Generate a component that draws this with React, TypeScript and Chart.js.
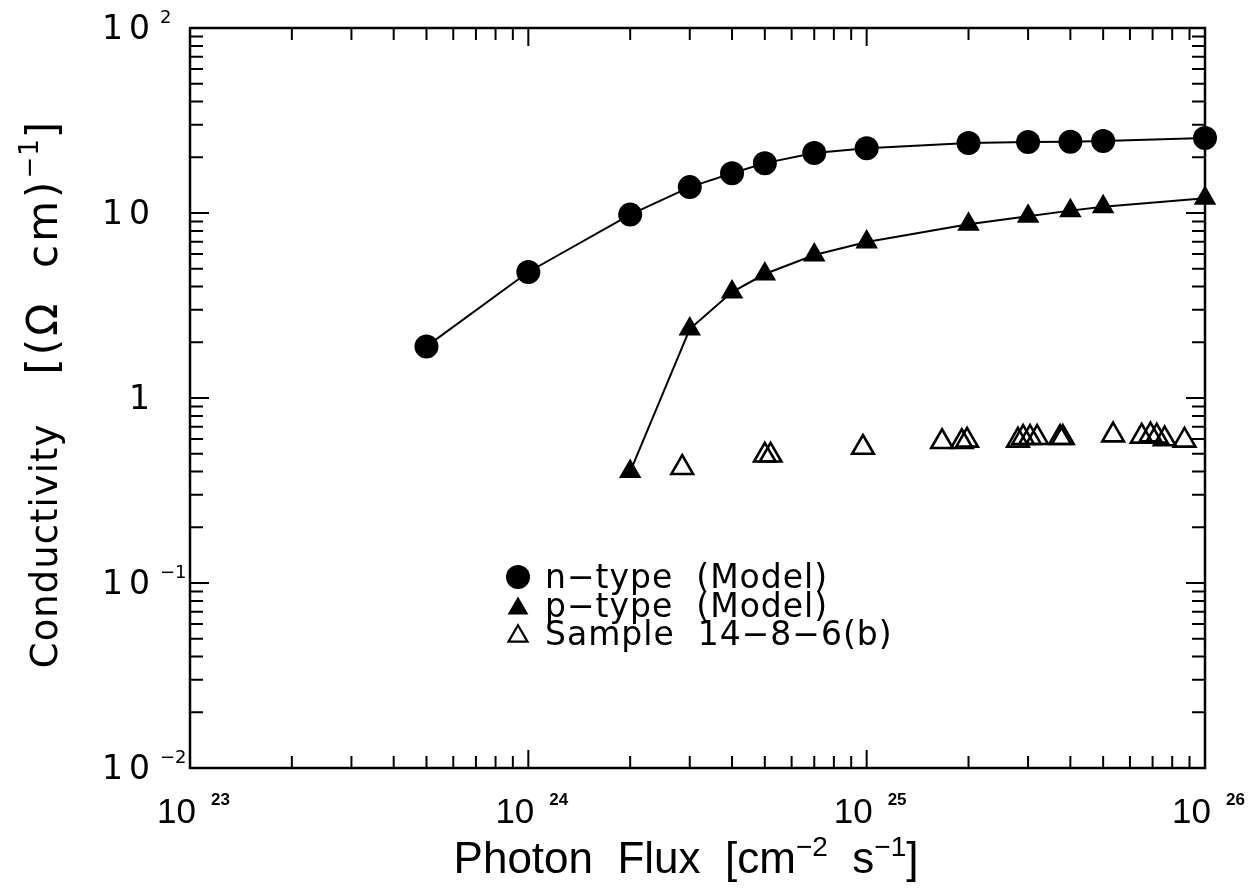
import React, { useEffect, useRef } from "react";
import { Chart, registerables } from "chart.js";

Chart.register(...registerables);

// ---- data ----
const nTypeX = [5e23, 1e24, 2e24, 3e24, 4e24, 5e24, 7e24, 1e25, 2e25, 3e25, 4e25, 5e25, 1e26];
const nTypeY = [1.9, 4.8, 9.8, 13.8, 16.4, 18.6, 21.1, 22.4, 23.9, 24.2, 24.3, 24.5, 25.4];

const pTypeX = [2e24, 3e24, 4e24, 5e24, 7e24, 1e25, 2e25, 3e25, 4e25, 5e25, 1e26];
const pTypeY = [0.4, 2.36, 3.74, 4.68, 5.93, 6.97, 8.7, 9.6, 10.3, 10.8, 12.0];

const sampleX = [2.85e24, 5.0e24, 5.2e24, 9.75e24, 1.67e25, 1.91e25, 1.98e25, 2.8e25, 2.9e25, 3.04e25, 3.19e25, 3.73e25, 3.8e25, 5.35e25, 6.5e25, 6.9e25, 7.2e25, 7.6e25, 8.7e25];
const sampleY = [0.42, 0.49, 0.49, 0.54, 0.58, 0.58, 0.59, 0.59, 0.61, 0.61, 0.61, 0.61, 0.61, 0.63, 0.62, 0.63, 0.62, 0.6, 0.59];

const xTickValues = [1e23, 1e24, 1e25, 1e26];
const xTickBase = ["10", "10", "10", "10"];
const xTickExp = ["23", "24", "25", "26"];

const yTickValues = [0.01, 0.1, 1, 10, 100];
const yTickBase = ["10", "10", "1", "10", "10"];
const yTickExp = ["\u2212" + "2", "\u2212" + "1", "", "", "2"];

const legendLabels = ["n\u2212type  (Model)", "p\u2212type  (Model)", "Sample  14\u22128\u22126(b)"];

const X_MIN = 1e23, X_MAX = 1e26, Y_MIN = 0.01, Y_MAX = 100;

const SANS = '"DejaVu Sans", sans-serif';
const LIB = '"Liberation Sans", Arial, sans-serif';

function minorValues(min: number, max: number): { v: number; major: boolean }[] {
  const out: { v: number; major: boolean }[] = [];
  const e0 = Math.round(Math.log10(min));
  const e1 = Math.round(Math.log10(max));
  for (let e = e0; e <= e1; e++) {
    for (let m = 1; m <= 9; m++) {
      const v = m * Math.pow(10, e);
      if (v < min * 0.999 || v > max * 1.001) continue;
      out.push({ v, major: m === 1 });
    }
  }
  return out;
}

type Seg = { t: string; font: string; dy?: number; ls?: string };

function richWidth(ctx: CanvasRenderingContext2D, segs: Seg[]) {
  let w = 0;
  for (const s of segs) {
    ctx.font = s.font;
    (ctx as any).letterSpacing = s.ls || "0px";
    w += ctx.measureText(s.t).width;
  }
  return w;
}

function drawRich(ctx: CanvasRenderingContext2D, segs: Seg[], x: number, y: number, align: "left" | "center" | "right") {
  const w = richWidth(ctx, segs);
  let cx = align === "left" ? x : align === "center" ? x - w / 2 : x - w;
  ctx.textAlign = "left";
  ctx.textBaseline = "alphabetic";
  for (const s of segs) {
    ctx.font = s.font;
    (ctx as any).letterSpacing = s.ls || "0px";
    ctx.fillText(s.t, cx, y + (s.dy || 0));
    cx += ctx.measureText(s.t).width;
  }
  (ctx as any).letterSpacing = "0px";
}

const framePlugin = {
  id: "framePlugin",
  afterDraw(chart: any) {
    const ctx: CanvasRenderingContext2D = chart.ctx;
    const { left, right, top, bottom } = chart.chartArea;
    const xs = chart.scales.x;
    const ys = chart.scales.y;
    ctx.save();
    ctx.strokeStyle = "#000";
    ctx.fillStyle = "#000";
    // frame
    ctx.lineWidth = 2.5;
    ctx.strokeRect(left, top, right - left, bottom - top);
    // ticks
    ctx.lineWidth = 2;
    ctx.beginPath();
    for (const t of minorValues(X_MIN, X_MAX)) {
      const px = xs.getPixelForValue(t.v);
      const len = t.major ? 18 : 12;
      ctx.moveTo(px, bottom);
      ctx.lineTo(px, bottom - len);
      ctx.moveTo(px, top);
      ctx.lineTo(px, top + len);
    }
    for (const t of minorValues(Y_MIN, Y_MAX)) {
      const py = ys.getPixelForValue(t.v);
      const len = t.major ? 19 : 13;
      ctx.moveTo(left, py);
      ctx.lineTo(left + len, py);
      ctx.moveTo(right, py);
      ctx.lineTo(right - len, py);
    }
    ctx.stroke();

    // y tick labels
    yTickValues.forEach((v, i) => {
      const py = ys.getPixelForValue(v);
      ctx.font = `33px ${SANS}`;
      (ctx as any).letterSpacing = "6px";
      ctx.textAlign = "right";
      ctx.textBaseline = "middle";
      ctx.fillText(yTickBase[i], 156, py + 2);
      (ctx as any).letterSpacing = "0px";
      if (yTickExp[i]) {
        ctx.font = `18px ${SANS}`;
        ctx.textAlign = "left";
        ctx.fillText(yTickExp[i], 160, py - 10);
      }
    });

    // x tick labels
    xTickValues.forEach((v, i) => {
      const px = xs.getPixelForValue(v);
      ctx.font = `35px ${LIB}`;
      ctx.textAlign = "right";
      ctx.textBaseline = "alphabetic";
      ctx.fillText(xTickBase[i], px + 6, 823);
      ctx.font = `bold 17px ${LIB}`;
      ctx.textAlign = "left";
      ctx.fillText(xTickExp[i], px + 21, 805);
    });

    // x title
    const tf = `44px ${LIB}`;
    const sf = `28px ${LIB}`;
    drawRich(ctx, [
      { t: "Photon  Flux  [cm", font: tf },
      { t: "\u22122", font: sf, dy: -17 },
      { t: "  s", font: tf },
      { t: "\u22121", font: sf, dy: -17 },
      { t: "]", font: tf },
    ], 686, 873, "center");

    // y title
    ctx.save();
    ctx.translate(57, 395);
    ctx.rotate(-Math.PI / 2);
    drawRich(ctx, [
      { t: "Conductivity", font: `37px ${SANS}`, ls: "1px" },
      { t: "   [(\u03A9  cm)", font: `42px ${SANS}`, ls: "3px" },
      { t: "\u22121", font: `26px ${SANS}`, dy: -19, ls: "1px" },
      { t: "]", font: `42px ${SANS}` },
    ], 0, 0, "center");
    ctx.restore();

    // legend
    const lx = 518;
    const rows = [577, 606, 634];
    ctx.beginPath();
    ctx.arc(lx, rows[0], 12, 0, Math.PI * 2);
    ctx.fill();
    const tri = (cx: number, cy: number, r: number) => {
      ctx.beginPath();
      for (let k = 0; k < 3; k++) {
        const a = -Math.PI / 2 + k * (2 * Math.PI / 3);
        const px = cx + Math.cos(a) * r;
        const py = cy + Math.sin(a) * r + r * 0.2;
        if (k === 0) ctx.moveTo(px, py); else ctx.lineTo(px, py);
      }
      ctx.closePath();
    };
    tri(lx, rows[1], 12);
    ctx.fill();
    tri(lx, rows[2], 11);
    ctx.lineWidth = 2.2;
    ctx.stroke();
    ctx.font = `33px ${SANS}`;
    (ctx as any).letterSpacing = "1px";
    ctx.textAlign = "left";
    ctx.textBaseline = "middle";
    legendLabels.forEach((s, i) => {
      ctx.fillText(s, 545, rows[i] + 2);
    });
    (ctx as any).letterSpacing = "0px";
    ctx.restore();
  },
};

export default function App() {
  const ref = useRef<HTMLCanvasElement | null>(null);
  useEffect(() => {
    if (!ref.current) return;
    const chart = new Chart(ref.current, {
      type: "scatter",
      data: {
        datasets: [
          {
            label: legendLabels[0],
            data: nTypeX.map((x, i) => ({ x, y: nTypeY[i] })),
            showLine: true,
            borderColor: "#000",
            backgroundColor: "#000",
            borderWidth: 2,
            pointStyle: "circle",
            pointRadius: 12,
            pointBorderWidth: 0,
            clip: false as any,
          },
          {
            label: legendLabels[1],
            data: pTypeX.map((x, i) => ({ x, y: pTypeY[i] })),
            showLine: true,
            borderColor: "#000",
            backgroundColor: "#000",
            borderWidth: 2,
            pointStyle: "triangle",
            pointRadius: 13,
            pointBorderWidth: 0,
            clip: false as any,
          },
          {
            label: legendLabels[2],
            data: sampleX.map((x, i) => ({ x, y: sampleY[i] })),
            showLine: false,
            borderColor: "#000",
            backgroundColor: "rgba(0,0,0,0)",
            pointStyle: "triangle",
            pointRadius: 12.5,
            pointBorderWidth: 2.6,
            clip: false as any,
          },
        ],
      },
      options: {
        animation: false,
        responsive: true,
        maintainAspectRatio: false,
        layout: { padding: { top: 28, right: 44, left: 0, bottom: 0 } },
        plugins: { legend: { display: false }, tooltip: { enabled: false } },
        scales: {
          x: {
            type: "logarithmic",
            min: X_MIN,
            max: X_MAX,
            grid: { display: false },
            border: { display: false },
            ticks: { display: false },
            afterFit: (s: any) => { s.height = 123; },
          },
          y: {
            type: "logarithmic",
            min: Y_MIN,
            max: Y_MAX,
            grid: { display: false },
            border: { display: false },
            ticks: { display: false },
            afterFit: (s: any) => { s.width = 190; },
          },
        },
      },
      plugins: [framePlugin],
    });
    return () => chart.destroy();
  }, []);
  return (
    <div style={{ position: "absolute", left: 0, top: 0, width: 1249, height: 891, background: "#fff" }}>
      <canvas ref={ref} />
    </div>
  );
}
